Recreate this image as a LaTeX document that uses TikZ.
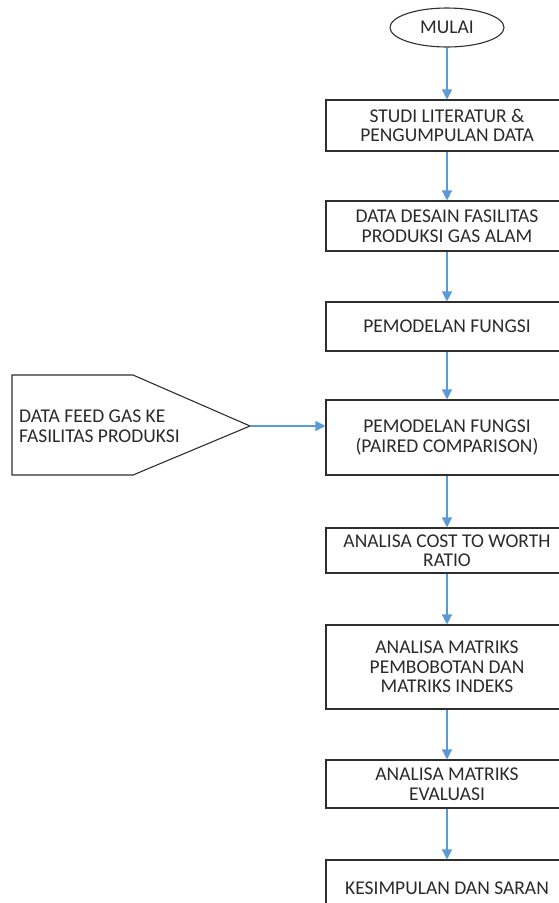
\documentclass[tikz,border=0pt]{standalone}
\usepackage{fontspec}
\setmainfont{Carlito}
\usetikzlibrary{arrows.meta, shapes.geometric}
\definecolor{fcLine}{HTML}{2E2E2E}
\definecolor{fcText}{HTML}{2A2A2A}
\definecolor{fcArrow}{HTML}{5B9BD5}

\begin{document}
\begin{tikzpicture}[x=1pt, y=-1pt,
	fcFont/.style={font=\fontsize{19.5}{19.5}\selectfont, text=fcText},
	procbox/.style={fcFont, draw=fcLine, line width=1.1pt, rectangle,
		minimum width=242pt, align=center, inner sep=2pt},
	startnode/.style={fcFont, draw=fcLine, line width=1.1pt, ellipse,
		minimum width=114pt, minimum height=39pt, inner sep=0pt},
	flowarrow/.style={draw=fcArrow, line width=1.3pt, -{Triangle[width=10pt,length=10pt]}}]
	\useasboundingbox (0,0) rectangle (558,903);
	\node[startnode] (mulai) at (447,27.5) {MULAI};
	\node[procbox, minimum height=51pt] (studi) at (447,125.5)
		{STUDI LITERATUR \&\\PENGUMPULAN DATA};
	\node[procbox, minimum height=50pt] (desain) at (447,226)
		{DATA DESAIN FASILITAS\\PRODUKSI GAS ALAM};
	\node[procbox, minimum height=49pt] (fungsi) at (447,326.5)
		{PEMODELAN FUNGSI};
	\node[procbox, minimum height=75pt] (paired) at (447,437.5)
		{PEMODELAN FUNGSI\\(PAIRED COMPARISON)};
	\node[procbox, minimum height=45pt] (cost) at (447,550.5)
		{ANALISA COST TO WORTH\\RATIO};
	\node[procbox, minimum height=84pt] (bobot) at (447,667)
		{ANALISA MATRIKS\\PEMBOBOTAN DAN\\MATRIKS INDEKS};
	\node[procbox, minimum height=48pt] (evaluasi) at (447,784)
		{ANALISA MATRIKS\\EVALUASI};
	\node[procbox, minimum height=56pt] (simpul) at (447,888)
		{KESIMPULAN DAN SARAN};

	\draw[fcLine, line width=1.1pt] (12,375) -- (133,375) -- (250,426)
		-- (133,475) -- (12,475) -- cycle;
	\coordinate (feedtip) at (250,426);
	\node[fcFont, anchor=west, align=left, inner sep=0pt] (feed) at (19,426)
		{DATA FEED GAS KE\\FASILITAS PRODUKSI};

	\draw[flowarrow] (mulai) -- (studi);
	\draw[flowarrow] (studi) -- (desain);
	\draw[flowarrow] (desain) -- (fungsi);
	\draw[flowarrow] (fungsi) -- (paired);
	\draw[flowarrow] (paired) -- (cost);
	\draw[flowarrow] (cost) -- (bobot);
	\draw[flowarrow] (bobot) -- (evaluasi);
	\draw[flowarrow] (evaluasi) -- (simpul);
	\draw[flowarrow] (feedtip) -- (feedtip -| paired.west);
\end{tikzpicture}
\end{document}
